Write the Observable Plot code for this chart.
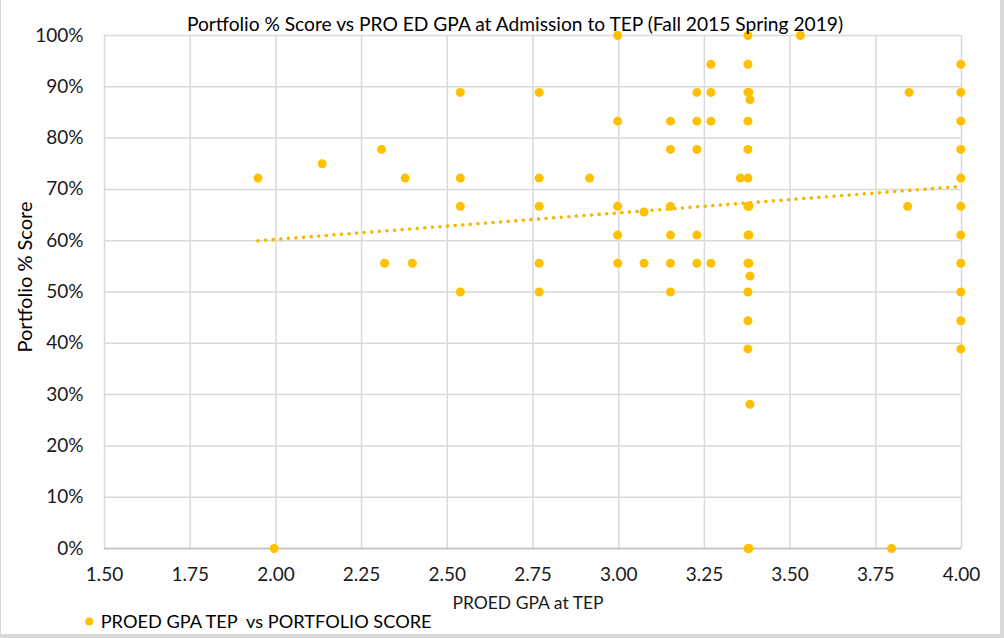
<!DOCTYPE html>
<html><head><meta charset="utf-8">
<script src="https://cdn.jsdelivr.net/npm/d3@7"></script>
<script src="https://cdn.jsdelivr.net/npm/@observablehq/plot@0.6"></script>
<style>
html,body{margin:0;padding:0;background:#d9d9d9;}
#frame{position:absolute;left:1px;top:0;width:999px;height:634px;background:#fff;overflow:hidden;}
svg{font-family:Lato,"Open Sans",sans-serif;}
</style></head><body><div id="frame"></div>
<script>
const gpa = [1.948,1.995,2.135,2.308,2.317,2.377,2.398,
 2.538,2.538,2.538,2.538,
 2.768,2.768,2.768,2.768,2.768,
 2.915,
 2.997,2.997,2.997,2.997,2.997,
 3.074,3.074,
 3.151,3.151,3.151,3.151,3.151,3.151,
 3.228,3.228,3.228,3.228,3.228,
 3.269,3.269,3.269,3.269,
 3.355,
 3.377,3.377,3.377,3.377,3.377,3.377,3.377,3.377,3.377,3.377,3.377,3.377,3.377,
 3.380,3.380,3.380,3.380,3.380,
 3.383,3.383,3.383,
 3.530,3.796,3.847,3.843,
 3.998,3.998,3.998,3.998,3.998,3.998,3.998,3.998,3.998,3.998,3.998];
const score = [72.2,0,75,77.8,55.6,72.2,55.6,
 88.9,72.2,66.7,50,
 88.9,72.2,66.7,55.6,50,
 72.2,
 100,83.3,66.7,61.1,55.6,
 65.6,55.6,
 83.3,77.8,66.7,61.1,55.6,50,
 88.9,83.3,77.8,61.1,55.6,
 94.4,88.9,83.3,55.6,
 72.2,
 100,94.4,88.9,83.3,77.8,72.2,66.7,61.1,55.6,50,44.4,38.9,0,
 88.9,66.7,61.1,55.6,0,
 87.5,53.1,28.1,
 100,0,88.9,66.7,
 94.4,88.9,83.3,77.8,72.2,66.7,61.1,55.6,50,44.4,38.9];
const trendX = [1.948, 4.0];
const trendY = [60.0, 70.6];
const xTicks = [1.5,1.75,2.0,2.25,2.5,2.75,3.0,3.25,3.5,3.75,4.0];
const yTicks = [0,10,20,30,40,50,60,70,80,90,100];
const titleText = "Portfolio % Score vs PRO ED GPA at Admission to TEP (Fall 2015 Spring 2019)";
const xLabel = "PROED GPA at TEP";
const yLabel = "Portfolio % Score";
const legendText = "PROED GPA TEP  vs PORTFOLIO SCORE";

const pts = gpa.map((g,i)=>({g, s:score[i]}));
const trend = trendX.map((x,i)=>({x, y:trendY[i]}));
const gold = "#FFC000";

const chart = Plot.plot({
  width: 999, height: 634,
  marginLeft: 103, marginRight: 39, marginTop: 35, marginBottom: 86,
  x: {domain:[1.5,4], ticks: xTicks},
  y: {domain:[0,100], ticks: yTicks},
  style: {fontFamily: "Lato, 'Open Sans', sans-serif", fontSize: "19px", color:"#1a1a1a", background:"transparent"},
  marks: [
    Plot.gridX(xTicks, {stroke:"#d9d9d9", strokeOpacity:1, strokeWidth:1.5}),
    Plot.gridY(yTicks, {stroke:"#d9d9d9", strokeOpacity:1, strokeWidth:1.5}),
    Plot.ruleY([0], {stroke:"#bfbfbf", strokeWidth:1.5}),
    Plot.axisY({ticks: yTicks, tickSize:0, tickPadding:21, tickFormat: d => d + "%", label:null, fontSize:19, fill:"#1a1a1a"}),
    Plot.axisX({ticks: xTicks, tickSize:0, tickPadding:19, tickFormat: d3.format(".2f"), label:null, fontSize:19, fill:"#1a1a1a"}),
    Plot.line(trend, {x:"x", y:"y", stroke:"#F5B800", strokeWidth:3.5, strokeDasharray:"0.1 7.5", strokeLinecap:"round"}),
    Plot.dot(pts, {x:"g", y:"s", r:4.5, fill:gold, stroke:"none"})
  ]
});
document.getElementById("frame").appendChild(chart);
const svg = d3.select(chart);
svg.append("text").attr("x", 514).attr("y", 31).attr("text-anchor","middle")
  .attr("font-size", 19.2).attr("fill","#000").text(titleText);
svg.append("text").attr("x", 527).attr("y", 609).attr("text-anchor","middle")
  .attr("font-size", 17.5).attr("fill","#1a1a1a").text(xLabel);
svg.append("text").attr("transform","translate(31,277) rotate(-90)").attr("text-anchor","middle")
  .attr("font-size", 20).attr("fill","#000").text(yLabel);
svg.append("circle").attr("cx", 88.3).attr("cy", 621.5).attr("r", 4).attr("fill", gold);
svg.append("text").attr("x", 99.7).attr("y", 627.5).attr("text-anchor","start").attr("font-size", 18.2).attr("fill","#000")
  .attr("xml:space","preserve").style("white-space","pre").text(legendText);
</script></body></html>
